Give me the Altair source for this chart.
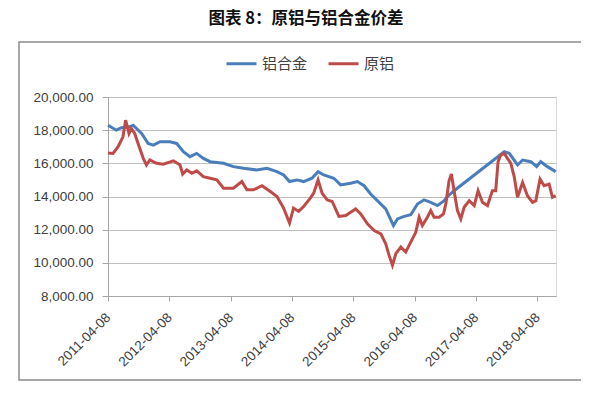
import altair as alt
import pandas as pd

# 铝合金 series (blue)
alloy_dates = [
    "2011-04-08", "2011-05-27", "2011-06-27", "2011-08-15", "2011-09-05", "2011-09-25",
    "2011-10-25", "2011-12-03", "2012-01-03", "2012-02-12", "2012-04-11", "2012-05-21",
    "2012-06-30", "2012-08-08", "2012-09-17", "2012-10-27", "2012-12-06", "2013-02-24",
    "2013-04-24", "2013-06-23", "2013-09-10", "2013-11-10", "2014-01-08", "2014-02-17",
    "2014-03-24", "2014-05-07", "2014-06-16", "2014-08-05", "2014-09-10", "2014-10-14",
    "2014-12-13", "2015-01-22", "2015-03-23", "2015-05-02", "2015-06-11", "2015-07-20",
    "2015-08-29", "2015-10-18", "2015-12-03", "2015-12-27", "2016-02-05", "2016-03-15",
    "2016-04-24", "2016-06-02", "2016-07-12", "2016-08-21", "2016-09-30", "2016-10-20",
    "2016-11-28", "2017-09-23", "2017-10-23", "2017-12-11", "2018-01-10", "2018-02-28",
    "2018-04-04", "2018-04-28", "2018-06-07", "2018-07-26",
]
alloy_values = [
    18300, 18000, 18150, 18200, 18300, 18100,
    17800, 17200, 17100, 17300, 17300, 17200,
    16700, 16400, 16600, 16300, 16100, 16000,
    15800, 15700, 15600, 15700, 15500, 15300,
    14900, 15000, 14900, 15100, 15500, 15300,
    15100, 14700, 14800, 14900, 14650, 14150,
    13750, 13250, 12250, 12650, 12800, 12900,
    13550, 13800, 13650, 13450, 13750, 14000,
    14350, 16700, 16600, 15900, 16200, 16100,
    15800, 16100, 15800, 15500,
]

# 原铝 series (red)
primary_dates = [
    "2011-04-08", "2011-05-08", "2011-06-07", "2011-07-06", "2011-07-22", "2011-08-11",
    "2011-08-25", "2011-09-14", "2011-10-04", "2011-11-04", "2011-11-23", "2011-12-13",
    "2012-01-22", "2012-03-02", "2012-05-01", "2012-06-10", "2012-06-26", "2012-07-20",
    "2012-08-19", "2012-09-17", "2012-10-27", "2012-12-06", "2013-01-15", "2013-02-24",
    "2013-04-24", "2013-06-13", "2013-07-13", "2013-08-22", "2013-10-11", "2013-11-30",
    "2014-01-08", "2014-02-17", "2014-03-24", "2014-04-17", "2014-05-17", "2014-06-16",
    "2014-07-26", "2014-08-15", "2014-09-10", "2014-10-04", "2014-11-03", "2014-12-03",
    "2015-01-12", "2015-02-22", "2015-03-23", "2015-04-22", "2015-05-22", "2015-07-01",
    "2015-08-10", "2015-09-19", "2015-10-18", "2015-11-07", "2015-11-27", "2015-12-17",
    "2016-01-16", "2016-02-14", "2016-03-15", "2016-04-14", "2016-05-04", "2016-05-23",
    "2016-06-22", "2016-07-12", "2016-08-01", "2016-08-31", "2016-09-26", "2016-10-10",
    "2016-10-29", "2016-11-12", "2016-11-28", "2016-12-18", "2017-01-07", "2017-01-27",
    "2017-02-26", "2017-03-28", "2017-04-20", "2017-05-16", "2017-06-15", "2017-07-14",
    "2017-08-03", "2017-08-17", "2017-09-02", "2017-09-23", "2017-10-12", "2017-11-01",
    "2017-11-21", "2017-12-11", "2018-01-10", "2018-02-08", "2018-03-10", "2018-03-30",
    "2018-04-24", "2018-05-18", "2018-06-17", "2018-07-07", "2018-07-26",
]
primary_values = [
    16630, 16600, 17000, 17600, 18600, 17800,
    18100, 17800, 17200, 16300, 15900, 16200,
    16000, 15950, 16150, 15900, 15350, 15600,
    15400, 15550, 15200, 15100, 15000, 14500,
    14500, 14900, 14400, 14400, 14650, 14300,
    14000, 13300, 12400, 13300, 13100, 13400,
    13900, 14200, 15000, 14200, 13800, 13700,
    12800, 12850, 13050, 13250, 12950, 12350,
    11950, 11750, 11150, 10450, 9850, 10550,
    10950, 10650, 11250, 11850, 12750, 12250,
    12750, 13150, 12750, 12750, 12950, 13550,
    14950, 15350, 14350, 13150, 12650, 13350,
    13750, 13450, 14350, 13650, 13450, 14350,
    14350, 16100, 16500, 16600, 16300, 16000,
    15200, 13950, 14850, 14050, 13650, 13750,
    15050, 14650, 14750, 13950, 14050,
]

series_names = ["铝合金", "原铝"]
series_colors = ["#4A7EBB", "#BE4B48"]
tick_years = [2011, 2012, 2013, 2014, 2015, 2016, 2017, 2018]
y_ticks = [8000, 10000, 12000, 14000, 16000, 18000, 20000]
title_text = "图表 8：原铝与铝合金价差"

df_alloy = pd.DataFrame({"date": alloy_dates, "value": alloy_values, "series": series_names[0]})
df_primary = pd.DataFrame({"date": primary_dates, "value": primary_values, "series": series_names[1]})

num_font = "Liberation Sans"
cjk_font = "Noto Sans CJK SC"

x_enc = alt.X(
    "date:T",
    scale=alt.Scale(type="utc", domain=[alt.DateTime(year=2011, month=4, date=8, utc=True),
                                        alt.DateTime(year=2018, month=7, date=28, utc=True)]),
    axis=alt.Axis(
        values=[alt.DateTime(year=y, month=4, date=8, utc=True) for y in tick_years],
        format="%Y-%m-%d", labelAngle=-45, labelFont=num_font, labelFontSize=13.5,
        labelColor="#404040", tickColor="#A6A6A6", tickSize=5, domainColor="#A6A6A6",
        grid=False, title=None, labelPadding=14, labelAlign="right", labelBaseline="middle",
    ),
)
y_enc = alt.Y(
    "value:Q",
    scale=alt.Scale(domain=[8000, 20000], nice=False, zero=False),
    axis=alt.Axis(
        values=y_ticks, format=",.2f", labelFont=num_font, labelFontSize=13.5,
        labelColor="#404040", tickColor="#A6A6A6", tickSize=6, domainColor="#A6A6A6",
        gridColor="#C0C0C0", grid=True, title=None, labelPadding=9,
    ),
)
color_enc = alt.Color(
    "series:N",
    scale=alt.Scale(domain=series_names, range=series_colors),
    legend=alt.Legend(
        orient="none", direction="horizontal", legendX=117, legendY=-50, title=None,
        symbolType="stroke", symbolSize=900, symbolStrokeWidth=3, labelFont=cjk_font,
        labelFontSize=15, labelColor="#404040", labelOffset=4, columnPadding=14, padding=0,
    ),
)

frame = alt.Chart(pd.DataFrame({"k": [0]})).mark_rect(
    fill="white", fillOpacity=0, stroke="#8C8C8C", strokeWidth=1.5
).encode(x=alt.value(-89), x2=alt.value(477), y=alt.value(-55), y2=alt.value(283))

line_alloy = alt.Chart(df_alloy).mark_line(strokeWidth=3).encode(x=x_enc, y=y_enc, color=color_enc)
line_primary = alt.Chart(df_primary).mark_line(strokeWidth=3).encode(x=x_enc, y=y_enc, color=color_enc)

chart = alt.layer(frame, line_alloy, line_primary).properties(
    width=448,
    height=199,
    title=alt.TitleParams(title_text, font=cjk_font, fontSize=16.5, fontWeight="bold",
                          color="#111111", anchor="middle", dx=-26, offset=14),
    autosize=alt.AutoSizeParams(type="none"),
    padding={"left": 100, "top": 89, "right": 25, "bottom": 95},
).configure_view(stroke=None).configure(background="white")

chart.save("out.html", embed_options={"renderer": "svg", "actions": False})
